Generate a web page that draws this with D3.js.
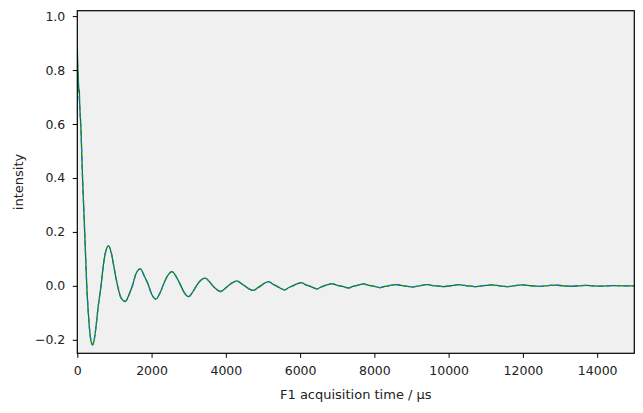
<!DOCTYPE html>
<html>
<head>
<meta charset="utf-8">
<script src="https://cdn.jsdelivr.net/npm/d3@7"></script>
<style>
  html, body { margin: 0; padding: 0; background: #ffffff; }
  svg text { font-family: "DejaVu Sans", sans-serif; }
</style>
</head>
<body>
<svg id="chart" width="643" height="413"></svg>
<script>
// ---- data ----
const timeUs = [
  0, 15, 27, 40, 54, 68, 81, 100, 120, 143, 170, 197, 225, 255, 292, 332, 370, 412, 455, 500,
  560, 638, 700, 770, 843, 910, 1000, 1085, 1180, 1290, 1400, 1490, 1580, 1697, 1810, 1910,
  2000, 2119, 2230, 2320, 2420, 2550, 2680, 2780, 2880, 2998, 3120, 3220, 3320, 3447, 3560,
  3650, 3740, 3851, 3980, 4080, 4180, 4300, 4420, 4510, 4610, 4731, 4850, 4940, 5040, 5153,
  5270, 5360, 5460, 5584, 5700, 5800, 5910, 6033, 6150, 6240, 6340, 6455, 6570, 6650, 6750,
  6860, 6980, 7080, 7190, 7307, 7420, 7510, 7600, 7711, 7830, 7930, 8040, 8160, 8280, 8380,
  8480, 8591, 8710, 8800, 8900, 9014, 9130, 9220, 9320, 9418, 9530, 9640, 9750, 9865, 9980,
  10080, 10180, 10288, 10400, 10500, 10610, 10719, 10830, 10940, 11050, 11168, 11370, 11573,
  11780, 11977, 12220, 12470, 12680, 12880, 13090, 13300, 13500, 13700, 13900, 14100, 14400,
  14700, 14990
];
const intensityData = [
  0.886, 0.80, 0.77, 0.73, 0.725, 0.66, 0.63, 0.575, 0.49, 0.393, 0.30, 0.207, 0.105, 0.0, -0.09, -0.163, -0.205, -0.219, -0.200, -0.155,
  -0.08, 0.0, 0.075, 0.13, 0.148, 0.125, 0.06, 0.0, -0.045, -0.058, -0.03, 0.003, 0.045, 0.063, 0.035, 0.005,
  -0.03, -0.049, -0.025, 0.005, 0.035, 0.053, 0.03, 0.003, -0.025, -0.040, -0.02, 0.003, 0.02, 0.0285, 0.015,
  0.0, -0.012, -0.021, -0.01, 0.002, 0.012, 0.0185, 0.008, 0.0, -0.01, -0.017, -0.008, 0.0, 0.01, 0.016,
  0.006, 0.0, -0.008, -0.015, -0.006, 0.0, 0.007, 0.012, 0.004, 0.0, -0.006, -0.011, -0.004, 0.0, 0.005,
  0.0085, 0.003, 0.0, -0.004, -0.0074, -0.002, 0.001, 0.004, 0.0074, 0.003, 0.0, -0.003, -0.0063, -0.002, 0.0,
  0.003, 0.0048, 0.002, 0.0, -0.002, -0.0048, -0.002, 0.0, 0.003, 0.0048, 0.002, 0.0, -0.001, -0.0026, -0.001,
  0.001, 0.003, 0.0045, 0.002, 0.0, -0.001, -0.0026, -0.001, 0.001, 0.002, 0.0035, 0.0, -0.0026,
  0.001, 0.0035, 0.0, -0.002, 0.001, 0.003, 0.0, -0.0015, 0.0, 0.002, 0.0, -0.001, 0.001,
  0.0, 0.0
];
// fit curve: identical to the data except the first few points
const intensityFitStart = [0.86, 0.79, 0.75, 0.72, 0.69, 0.66, 0.62];
const intensityFit = intensityFitStart.concat(intensityData.slice(intensityFitStart.length));

const xTicks = [0, 2000, 4000, 6000, 8000, 10000, 12000, 14000];
const yTicks = [-0.2, 0.0, 0.2, 0.4, 0.6, 0.8, 1.0];
const xDomain = [0, 15000];
const yDomain = [-0.25, 1.02];
const xLabel = "F1 acquisition time / µs";
const yLabel = "intensity";

// ---- layout ----
const W = 643, H = 413;
const plot = { left: 77.3, right: 634.3, top: 10.7, bottom: 353.3 };
const fs = 12.5;
const labelFs = 13;

const svg = d3.select("#chart");
const x = d3.scaleLinear().domain(xDomain).range([plot.left, plot.right]);
const y = d3.scaleLinear().domain(yDomain).range([plot.bottom, plot.top]);

svg.append("rect")
  .attr("x", plot.left).attr("y", plot.top)
  .attr("width", plot.right - plot.left).attr("height", plot.bottom - plot.top)
  .attr("fill", "#f0f0f0");

svg.append("clipPath").attr("id", "clip")
  .append("rect")
  .attr("x", plot.left).attr("y", plot.top)
  .attr("width", plot.right - plot.left).attr("height", plot.bottom - plot.top);

const pts = (vals) => timeUs.map((t, i) => [t, vals[i]]);
const line = d3.line().x(d => x(d[0])).y(d => y(d[1])).curve(d3.curveMonotoneX);

const g = svg.append("g").attr("clip-path", "url(#clip)");
g.append("path")
  .attr("d", line(pts(intensityData)))
  .attr("fill", "none").attr("stroke", "#008000").attr("stroke-width", 1.3);
g.append("path")
  .attr("d", line(pts(intensityFit)))
  .attr("fill", "none").attr("stroke", "#1f77b4").attr("stroke-width", 1.3)
  .attr("stroke-dasharray", "5,3.5");

// axes
const xAxis = d3.axisBottom(x).tickValues(xTicks).tickFormat(d3.format("d"))
  .tickSizeInner(4.5).tickSizeOuter(0).tickPadding(8.5);
const yAxis = d3.axisLeft(y).tickValues(yTicks).tickFormat(d3.format(".1f"))
  .tickSizeInner(4.5).tickSizeOuter(0).tickPadding(7.5);

const gx = svg.append("g").attr("transform", `translate(0,${plot.bottom})`).call(xAxis);
const gy = svg.append("g").attr("transform", `translate(${plot.left},0)`).call(yAxis);
[gx, gy].forEach(a => {
  a.select(".domain").remove();
  a.selectAll(".tick line").attr("stroke", "#000").attr("stroke-width", 1);
  a.selectAll(".tick text").attr("font-size", fs).attr("fill", "#222")
    .attr("font-family", "DejaVu Sans, sans-serif");
});
gy.selectAll(".tick text").text(d => d < 0 ? "\u2212" + Math.abs(d).toFixed(1) : d.toFixed(1));

// frame
svg.append("rect")
  .attr("x", plot.left).attr("y", plot.top)
  .attr("width", plot.right - plot.left).attr("height", plot.bottom - plot.top)
  .attr("fill", "none").attr("stroke", "#000").attr("stroke-width", 1.2);

// labels
svg.append("text")
  .attr("x", (plot.left + plot.right) / 2).attr("y", 399)
  .attr("text-anchor", "middle").attr("font-size", labelFs).attr("fill", "#222")
  .text(xLabel);
svg.append("text")
  .attr("transform", `translate(22.5,${(plot.top + plot.bottom) / 2}) rotate(-90)`)
  .attr("text-anchor", "middle").attr("font-size", labelFs).attr("fill", "#222")
  .text(yLabel);
</script>
</body>
</html>
